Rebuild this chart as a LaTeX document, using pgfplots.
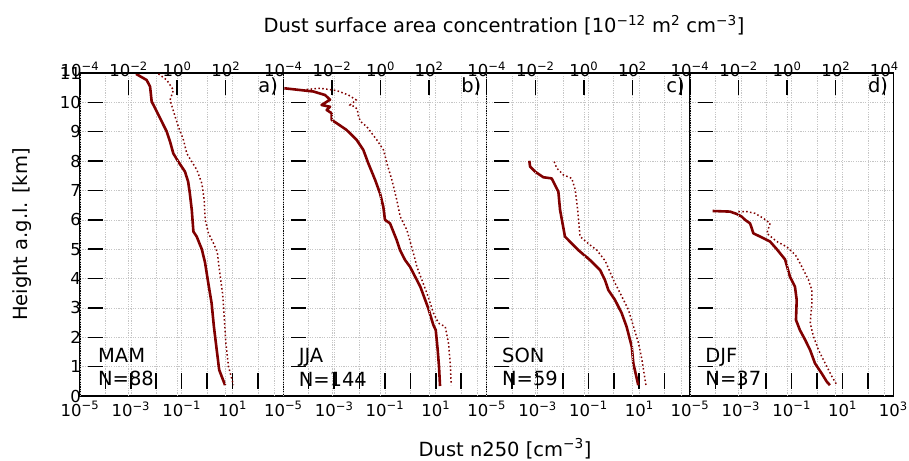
\documentclass[border=0pt]{standalone}
\usepackage{fontspec}
\setmainfont{DejaVu Sans}
\usepackage{pgfplots}
\pgfplotsset{compat=1.18}

\definecolor{dustred}{RGB}{128,0,0}
\newcommand{\ten}[1]{10\textsuperscript{#1}}

\tikzset{
  nline/.style={dustred, line width=2.6pt, line join=round},
  sline/.style={dustred, line width=1.5pt, dash pattern=on 1.5pt off 2.4pt},
  lbl/.style={font=\fontsize{19.5}{23.4}\selectfont, inner sep=0pt},
}

% common look of every panel (ticks come out centred, so they are pushed outward)
\pgfplotsset{
  every axis/.append style={
    scale only axis, width=203.3pt, height=323pt,
    major tick length=15pt,
    axis line style={line width=1.5pt},
    major tick style={black, line width=1.5pt},
    tick label style={font=\fontsize{16.5}{19}\selectfont},
    grid style={gray!45, line width=0.6pt, dash pattern=on 1.2pt off 1.2pt},
  },
}

\begin{document}
\begin{tikzpicture}
\useasboundingbox (0pt,0pt) rectangle (909pt,460pt);

% ---------------- a) MAM
\begin{axis}[at={(80pt,64pt)}, anchor=south west,
  xmode=log, xmin=1e-5, xmax=1e3, ymin=0, ymax=11,
  xminorticks=false, yminorticks=false, grid=major,
  xtick={1e-5,1e-4,1e-3,1e-2,1e-1,1,1e1,1e2,1e3},
  xticklabels={\ten{−5},,\ten{−3},,\ten{−1},,\ten{1},,},
  ytick={0,...,11}, yticklabels={0,1,2,3,4,5,6,7,8,9,10,11},
  xtick pos=bottom, ytick pos=left,
  xtick style={yshift=7.5pt}, ytick style={xshift=7.5pt},
  xticklabel style={yshift=-2pt}, yticklabel style={xshift=4.5pt}]
\addplot[nline] coordinates {
 (1.6e-3,10.97) (4.2e-3,10.76) (5.7e-3,10.54) (6.0e-3,10.37) (6.6e-3,10.03)
 (1.05e-2,9.69) (1.66e-2,9.34) (2.6e-2,9.0) (3.5e-2,8.66) (4.7e-2,8.26)
 (7.4e-2,7.98) (0.135,7.64) (0.18,7.30) (0.21,6.9) (0.25,6.34) (0.29,5.6)
 (0.39,5.43) (0.62,5.0) (0.83,4.55) (1.12,3.84) (1.51,3.16) (1.86,2.36)
 (2.4,1.57) (3.0,0.89) (5.1,0.37)};
\node[lbl, anchor=north east] at (rel axis cs:0.975,0.985) {a)};
\node[lbl, anchor=south west, align=left] at (rel axis cs:0.088,0.03) {MAM\\N=88};
\end{axis}
\begin{axis}[at={(80pt,64pt)}, anchor=south west,
  xmode=log, xmin=1e-4, xmax=2.35e4, ymin=0, ymax=11,
  xminorticks=false, axis x line*=top, axis y line=none, xmajorgrids,
  xtick={1e-4,1e-2,1,1e2,1e4},
  xticklabels={\ten{−4},\ten{−2},\ten{0},\ten{2},},
  xtick style={yshift=-7.5pt}, xticklabel style={yshift=-7.5pt}]
\addplot[sline] coordinates {
 (0.17,10.97) (0.376,10.76) (0.70,10.42) (0.51,10.08) (0.83,9.51) (1.13,9.17)
 (1.82,8.72) (2.5,8.26) (4.0,7.98) (6.5,7.70) (10.4,7.24) (13.0,6.68)
 (14.3,6.0) (19.5,5.54) (31.4,5.2) (45,4.9) (55,4.29) (74,3.50) (87,2.70)
 (102,1.79) (130,1.0) (209,0.37)};
\end{axis}

% ---------------- b) JJA
\begin{axis}[at={(283.3pt,64pt)}, anchor=south west,
  xmode=log, xmin=1e-5, xmax=1e3, ymin=0, ymax=11,
  xminorticks=false, yminorticks=false, grid=major,
  xtick={1e-5,1e-4,1e-3,1e-2,1e-1,1,1e1,1e2,1e3},
  xticklabels={\ten{−5},,\ten{−3},,\ten{−1},,\ten{1},,},
  ytick={0,...,11}, yticklabels={},
  xtick pos=bottom, ytick pos=left,
  xtick style={yshift=7.5pt}, ytick style={xshift=7.5pt},
  xticklabel style={yshift=-2pt}]
\addplot[nline] coordinates {
 (1.1e-5,10.48) (1.52e-4,10.37) (4.4e-4,10.25) (6.9e-4,10.09) (3.2e-4,9.91)
 (6.9e-4,9.85) (5.1e-4,9.74) (8.0e-4,9.63) (8.0e-4,9.40) (1.26e-3,9.29)
 (3.1e-3,9.06) (7.7e-3,8.72) (1.41e-2,8.38) (2.2e-2,7.93) (4.1e-2,7.36)
 (6.4e-2,6.90) (8.6e-2,6.45) (0.10,6.0) (0.158,5.88) (0.29,5.31) (0.39,4.97)
 (0.62,4.63) (0.97,4.40) (2.47,3.72) (5.1,2.98) (8.0,2.42) (9.95,2.25)
 (11.9,1.57) (13.4,1.0) (14.7,0.34)};
\node[lbl, anchor=north east] at (rel axis cs:0.975,0.985) {b)};
\node[lbl, anchor=south west, align=left] at (rel axis cs:0.075,0.03) {JJA\\N=144};
\end{axis}
\begin{axis}[at={(283.3pt,64pt)}, anchor=south west,
  xmode=log, xmin=1e-4, xmax=2.35e4, ymin=0, ymax=11,
  xminorticks=false, axis x line*=top, axis y line=none, xmajorgrids,
  xtick={1e-4,1e-2,1,1e2,1e4},
  xticklabels={\ten{−4},\ten{−2},\ten{0},\ten{2},},
  xtick style={yshift=-7.5pt}, xticklabel style={yshift=-7.5pt}]
\addplot[sline] coordinates {
 (9.2e-4,10.44) (3.3e-3,10.48) (1.59e-2,10.40) (4.8e-2,10.25) (0.10,10.08)
 (0.056,9.91) (0.091,9.85) (0.113,9.74) (0.124,9.51) (0.156,9.34)
 (0.275,9.17) (0.71,8.72) (1.33,8.38) (1.84,7.93) (2.95,7.36) (4.7,6.68)
 (6.5,6.11) (12.3,5.65) (19.7,5.05) (27,4.63) (31.7,4.40) (82,3.50)
 (153,2.82) (247,2.48) (466,2.36) (635,1.79) (748,1.11) (822,0.37)};
\end{axis}

% ---------------- c) SON
\begin{axis}[at={(486.7pt,64pt)}, anchor=south west,
  xmode=log, xmin=1e-5, xmax=1e3, ymin=0, ymax=11,
  xminorticks=false, yminorticks=false, grid=major,
  xtick={1e-5,1e-4,1e-3,1e-2,1e-1,1,1e1,1e2,1e3},
  xticklabels={\ten{−5},,\ten{−3},,\ten{−1},,\ten{1},,},
  ytick={0,...,11}, yticklabels={},
  xtick pos=bottom, ytick pos=left,
  xtick style={yshift=7.5pt}, ytick style={xshift=7.5pt},
  xticklabel style={yshift=-2pt}]
\addplot[nline] coordinates {
 (4.75e-4,8.01) (5.1e-4,7.81) (8.0e-4,7.64) (1.69e-3,7.45) (3.6e-3,7.41)
 (6.6e-3,6.96) (7.7e-3,6.34) (1.2e-2,5.43) (2.56e-2,5.14) (4.0e-2,4.97)
 (0.116,4.63) (0.29,4.29) (0.45,3.95) (0.61,3.61) (1.12,3.27) (2.05,2.82)
 (3.2,2.36) (5.1,1.68) (5.9,1.11) (9.2,0.37)};
\node[lbl, anchor=north east] at (rel axis cs:0.975,0.985) {c)};
\node[lbl, anchor=south west, align=left] at (rel axis cs:0.075,0.03) {SON\\N=59};
\end{axis}
\begin{axis}[at={(486.7pt,64pt)}, anchor=south west,
  xmode=log, xmin=1e-4, xmax=2.35e4, ymin=0, ymax=11,
  xminorticks=false, axis x line*=top, axis y line=none, xmajorgrids,
  xtick={1e-4,1e-2,1,1e2,1e4},
  xticklabels={\ten{−4},\ten{−2},\ten{0},\ten{2},},
  xtick style={yshift=-7.5pt}, xticklabel style={yshift=-7.5pt}]
\addplot[sline] coordinates {
 (0.060,7.98) (0.077,7.76) (0.144,7.53) (0.32,7.41) (0.44,7.02) (0.54,6.45)
 (0.64,5.77) (0.70,5.43) (1.82,5.14) (3.4,4.97) (7.6,4.6) (16.6,3.95)
 (31.4,3.50) (69,2.93) (111,2.36) (179,1.79) (247,1.23) (360,0.37)};
\end{axis}

% ---------------- d) DJF
\begin{axis}[at={(690pt,64pt)}, anchor=south west,
  xmode=log, xmin=1e-5, xmax=1e3, ymin=0, ymax=11,
  xminorticks=false, yminorticks=false, grid=major,
  xtick={1e-5,1e-4,1e-3,1e-2,1e-1,1,1e1,1e2,1e3},
  xticklabels={\ten{−5},,\ten{−3},,\ten{−1},,\ten{1},,\ten{3}},
  ytick={0,...,11}, yticklabels={},
  xtick pos=bottom, ytick pos=left,
  xtick style={yshift=7.5pt}, ytick style={xshift=7.5pt},
  xticklabel style={yshift=-2pt}]
\addplot[nline] coordinates {
 (7.8e-5,6.30) (3.75e-4,6.28) (6.9e-4,6.20) (1.08e-3,6.11) (1.46e-3,6.0)
 (2.3e-3,5.88) (2.7e-3,5.71) (3.1e-3,5.54) (5.7e-3,5.43) (1.41e-2,5.26)
 (2.6e-2,5.0) (5.5e-2,4.65) (8.6e-2,4.06) (0.135,3.72) (0.158,3.27)
 (0.148,2.59) (0.21,2.25) (0.34,1.91) (0.53,1.57) (0.83,1.11) (1.52,0.77)
 (2.4,0.49) (3.2,0.37)};
\node[lbl, anchor=north east] at (rel axis cs:0.975,0.985) {d)};
\node[lbl, anchor=south west, align=left] at (rel axis cs:0.075,0.03) {DJF\\N=37};
\end{axis}
\begin{axis}[at={(690pt,64pt)}, anchor=south west,
  xmode=log, xmin=1e-4, xmax=2.35e4, ymin=0, ymax=11,
  xminorticks=false, axis x line*=top, axis y line=none, xmajorgrids,
  xtick={1e-4,1e-2,1,1e2,1e4},
  xticklabels={\ten{−4},\ten{−2},\ten{0},\ten{2},\ten{4}},
  xtick style={yshift=-7.5pt}, xticklabel style={yshift=-7.5pt}]
\addplot[sline] coordinates {
 (9.8e-3,6.28) (2.2e-2,6.28) (4.8e-2,6.22) (0.105,6.05) (0.20,5.88)
 (0.17,5.71) (0.146,5.54) (0.376,5.26) (0.97,5.08) (2.2,4.8) (3.4,4.52)
 (7.6,3.95) (10.4,3.61) (10.4,3.16) (8.9,2.48) (12.2,2.02) (19.5,1.57)
 (36.9,1.11) (70,0.66) (112,0.37)};
\end{axis}

% shared labels
\node[lbl, anchor=base] at (505pt,3.5pt) {Dust n250 [cm\textsuperscript{−3}]};
\node[lbl, anchor=base] at (504pt,427pt) {Dust surface area concentration [10\textsuperscript{−12} m\textsuperscript{2} cm\textsuperscript{−3}]};
\node[lbl, rotate=90, anchor=center] at (22pt,225.5pt) {Height a.g.l. [km]};
\end{tikzpicture}
\end{document}
